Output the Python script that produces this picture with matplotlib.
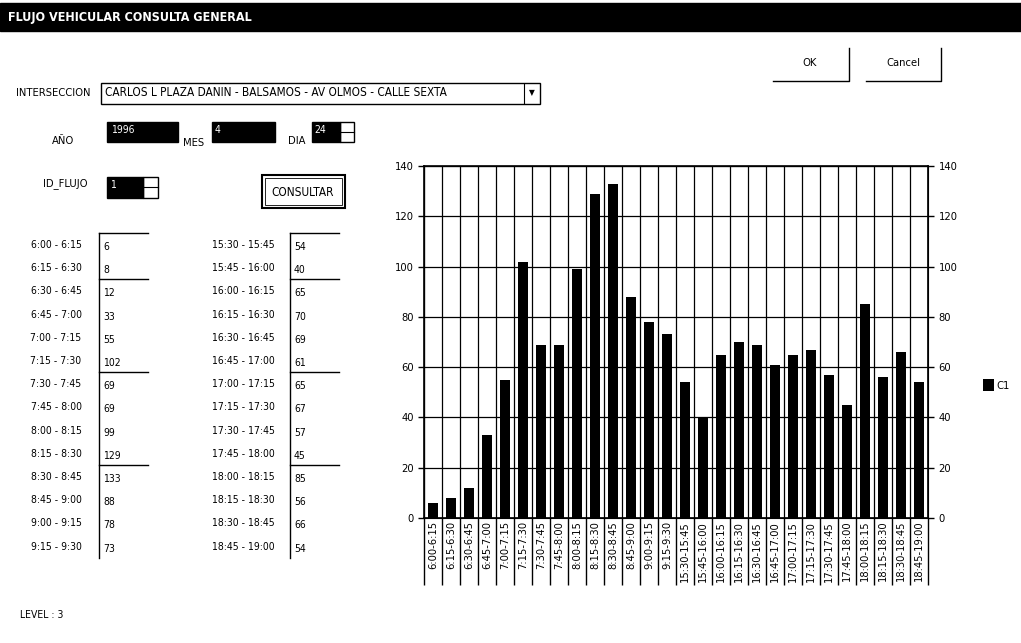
import matplotlib
matplotlib.use("Agg")
import matplotlib.pyplot as plt
from matplotlib.patches import Rectangle
import numpy as np

plt.rcParams['font.family'] = ['DejaVu Sans']
plt.rcParams['font.stretch'] = 'condensed'

# data
morning = ["6:00-6:15", "6:15-6:30", "6:30-6:45", "6:45-7:00", "7:00-7:15", "7:15-7:30", "7:30-7:45",
           "7:45-8:00", "8:00-8:15", "8:15-8:30", "8:30-8:45", "8:45-9:00", "9:00-9:15", "9:15-9:30"]
evening = ["15:30-15:45", "15:45-16:00", "16:00-16:15", "16:15-16:30", "16:30-16:45", "16:45-17:00", "17:00-17:15",
           "17:15-17:30", "17:30-17:45", "17:45-18:00", "18:00-18:15", "18:15-18:30", "18:30-18:45", "18:45-19:00"]
morning_vals = [6, 8, 12, 33, 55, 102, 69, 69, 99, 129, 133, 88, 78, 73]
evening_vals = [54, 40, 65, 70, 69, 61, 65, 67, 57, 45, 85, 56, 66, 54]
y_ticks = [0, 20, 40, 60, 80, 100, 120, 140]

W, H = 1021, 643
fig = plt.figure(figsize=(W / 100, H / 100), dpi=100)
fig.patch.set_facecolor('white')

# form drawn in pixel coords
ui = fig.add_axes([0, 0, 1, 1])
ui.set_xlim(0, W)
ui.set_ylim(H, 0)
ui.axis('off')

def box(x0, y0, x1, y1, fc='none', ec='black', lw=1.0):
    ui.add_patch(Rectangle((x0, y0), x1 - x0, y1 - y0, fc=fc, ec=ec, lw=lw))

# title bar
box(0, 3, W, 31, fc='black', ec='black')
ui.text(8, 18, "FLUJO VEHICULAR CONSULTA GENERAL", color='white', fontsize=9, fontweight='bold', va='center')

# OK / Cancel
ui.text(810, 63, "OK", fontsize=8, ha='center', va='center')
ui.plot([773, 849, 849], [81, 81, 48], color='black', lw=1)
ui.text(903, 63, "Cancel", fontsize=8, ha='center', va='center')
ui.plot([866, 941, 941], [81, 81, 48], color='black', lw=1)

# interseccion combo
ui.text(16, 93, "INTERSECCION", fontsize=8, va='center')
box(101, 83, 540, 104)
ui.text(105, 93, "CARLOS L PLAZA DANIN - BALSAMOS - AV OLMOS - CALLE SEXTA", fontsize=8.5, va='center')
ui.text(532, 93, "\u25BC", fontsize=6, ha='center', va='center')
ui.plot([524, 524], [84, 103], color='black', lw=0.8)

# fecha
ui.text(52, 141, "AÑO", fontsize=8, va='center')
box(107, 122, 178, 142, fc='black')
ui.text(111, 130, "1996", color='white', fontsize=7.5, va='center')
ui.text(183, 143, "MES", fontsize=8, va='center')
box(212, 122, 275, 142, fc='black')
ui.text(215, 130, "4", color='white', fontsize=7.5, va='center')
ui.text(288, 141, "DIA", fontsize=8, va='center')
box(312, 122, 340, 142, fc='black')
ui.text(314, 130, "24", color='white', fontsize=7.5, va='center')
box(340, 122, 354, 142)
ui.plot([340, 354], [132, 132], color='black', lw=0.8)

# id flujo
ui.text(43, 184, "ID_FLUJO", fontsize=8, va='center')
box(107, 177, 143, 198, fc='black')
ui.text(110, 185, "1", color='white', fontsize=7.5, va='center')
box(143, 177, 158, 198)
ui.plot([143, 158], [187, 187], color='black', lw=0.8)

# consultar
box(262, 175, 345, 208, lw=1.5)
box(265, 178, 342, 205, lw=0.6)
ui.text(303, 192, "CONSULTAR", fontsize=8.5, ha='center', va='center')

# table of values
row_y = 245 + 23.2 * np.arange(14)
for col, (labels, vals) in enumerate([(morning, morning_vals), (evening, evening_vals)]):
    lab_x = 56 if col == 0 else 243
    line_x = 99 if col == 0 else 290
    for y, lab, v in zip(row_y, labels, vals):
        ui.text(lab_x, y, lab.replace("-", " - "), fontsize=7.5, ha='center', va='center')
        ui.text(line_x + 4, y + 2, str(v), fontsize=7.5, va='center')
    ui.plot([line_x, line_x], [233, 558], color='black', lw=1)
    for i in [0, 2, 6, 10]:
        ui.plot([line_x, line_x + 49], [row_y[i] - 12, row_y[i] - 12], color='black', lw=1)

ui.text(20, 615, "LEVEL : 3", fontsize=7.5, va='center')

# chart
cats = morning + evening
vals = morning_vals + evening_vals
x = np.arange(len(cats))

ax = fig.add_axes([424 / W, (H - 518) / H, 504 / W, 352 / H])
ax.bar(x, vals, width=0.55, color='black', label='C1', zorder=3)
ax.set_xlim(-0.5, len(cats) - 0.5)
ax.set_ylim(0, 140)
ax.set_yticks(y_ticks)
ax.set_xticks(np.arange(len(cats) + 1) - 0.5)
ax.set_xticklabels([])
ax.set_xticks(x, minor=True)
ax.set_xticklabels(cats, minor=True, rotation=90, fontsize=8)
ax.tick_params(axis='x', which='major', length=48, width=1, direction='out')
ax.tick_params(axis='x', which='minor', length=0, pad=2)
ax.tick_params(axis='y', length=4, width=1, labelsize=8)
ax.grid(True, which='major', color='black', lw=0.9, zorder=1)
ax.set_axisbelow(True)
for s in ax.spines.values():
    s.set_linewidth(1.2)

ax2 = ax.twinx()
ax2.set_ylim(0, 140)
ax2.set_yticks(y_ticks)
ax2.tick_params(axis='y', length=4, width=1, labelsize=8)

ax.legend(loc='center left', bbox_to_anchor=(1.09, 0.378), frameon=False, fontsize=8,
          handlelength=1.0, handleheight=1.3, handletextpad=0.2)

fig.savefig("out.png", dpi=100)
